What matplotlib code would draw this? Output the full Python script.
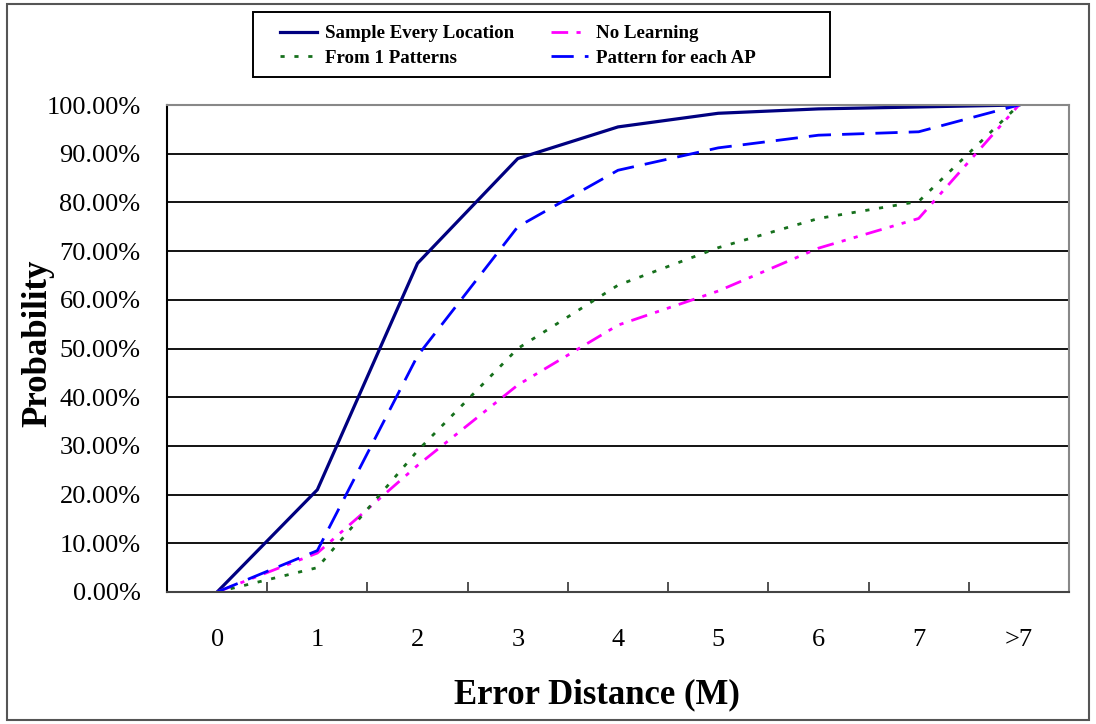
import matplotlib
matplotlib.use("Agg")
import matplotlib.pyplot as plt
from matplotlib.patches import Rectangle
from matplotlib.ticker import FixedLocator, PercentFormatter

# Cumulative probability of the positioning error, per method
categories = ["0", "1", "2", "3", "4", "5", "6", "7", ">7"]
sample_every_location = [0.0, 21.0, 67.5, 89.0, 95.5, 98.3, 99.2, 99.6, 100.0]
no_learning = [0.0, 8.0, 26.0, 42.5, 54.8, 61.8, 70.6, 76.7, 100.0]
from_1_patterns = [0.0, 5.0, 29.0, 50.0, 63.0, 70.7, 76.7, 80.2, 100.0]
pattern_for_each_ap = [0.0, 8.5, 48.5, 75.0, 86.6, 91.2, 93.8, 94.5, 100.0]

series_names = ["Sample Every Location", "No Learning",
                "From 1 Patterns", "Pattern for each AP"]

serif = ["Liberation Serif", "DejaVu Serif"]
plt.rcParams["font.family"] = serif

W, H = 1096, 724
fig = plt.figure(figsize=(W / 100, H / 100), dpi=100)
ax = fig.add_axes([167 / W, 1 - 592 / H, (1069 - 167) / W, (592 - 105) / H])

x = list(range(len(categories)))
h_sel, = ax.plot(x, sample_every_location, color="#000080", lw=2.3,
                 solid_joinstyle="round", label=series_names[0])
h_nl, = ax.plot(x, no_learning, color="#FF00FF", lw=2.0,
                dashes=(6, 3, 1.5, 3, 1.5, 3), label=series_names[1])
h_f1, = ax.plot(x, from_1_patterns, color="#16701C", lw=2.0,
                dashes=(1.5, 3.5), label=series_names[2])
h_ap, = ax.plot(x, pattern_for_each_ap, color="#0000FF", lw=2.0,
                dashes=(8, 4), label=series_names[3])

# Axes limits and grid
ax.set_xlim(-0.5, len(categories) - 0.5)
ax.set_ylim(0, 100)
ax.yaxis.set_major_locator(FixedLocator([i * 10 for i in range(11)]))
ax.yaxis.set_major_formatter(PercentFormatter(decimals=2))
ax.grid(axis="y", color="black", lw=1.3)
ax.set_axisbelow(True)

ax.set_xticks(x)
ax.set_xticklabels(categories)
ax.set_xticks([i + 0.5 for i in range(len(categories))], minor=True)
ax.tick_params(axis="x", which="major", length=0, pad=27, labelsize=19)
ax.tick_params(axis="x", which="minor", direction="in", length=7, width=1.2, color="#333333")
ax.tick_params(axis="y", direction="in", length=0, pad=19, labelsize=19)

for side in ("top", "right"):
    ax.spines[side].set_color("#888888")
    ax.spines[side].set_linewidth(1.5)
ax.spines["left"].set_color("black")
ax.spines["left"].set_linewidth(1.5)
ax.spines["bottom"].set_color("#444444")
ax.spines["bottom"].set_linewidth(1.5)

# Axis titles
fig.text(597 / W, 1 - 695 / H, "Error Distance (M)", fontsize=25,
         fontweight="bold", ha="center", va="center")
fig.text(38 / W, 1 - 343 / H, "Probability", rotation=90, fontsize=25,
         fontweight="bold", ha="center", va="center")

# Legend above the plot, two columns, inside a plain box
leg = fig.legend([h_sel, h_f1, h_nl, h_ap],
                 [series_names[0], series_names[2], series_names[1], series_names[3]],
                 ncol=2, loc="upper left",
                 bbox_to_anchor=(280 / W, 1 - 25 / H),
                 prop={"family": serif, "weight": "bold", "size": 13.6},
                 frameon=False, borderaxespad=0, borderpad=0,
                 handlelength=1.96, handletextpad=0.42, columnspacing=1.96,
                 labelspacing=0.40)
fig.patches.append(Rectangle((253 / W, 1 - 77 / H), (830 - 253) / W, (77 - 12) / H,
                             transform=fig.transFigure, fill=False,
                             edgecolor="black", lw=1.4))

# Outer chart border
fig.patches.append(Rectangle((7 / W, 1 - 720 / H), (1089 - 7) / W, (720 - 4) / H,
                             transform=fig.transFigure, fill=False,
                             edgecolor="#555555", lw=1.5))

fig.savefig("out.png", dpi=100)
